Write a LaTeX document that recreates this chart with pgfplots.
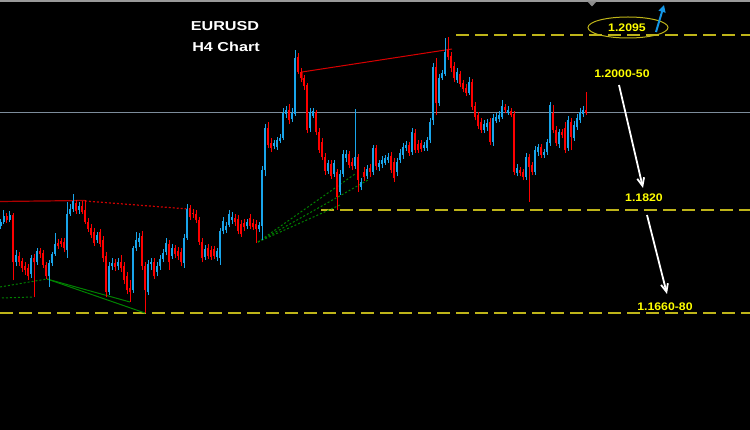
\documentclass[border=0pt]{standalone}
\usepackage{fontspec}
\setmainfont{Liberation Sans}
\usepackage{pgfplots}
\pgfplotsset{compat=1.18}
\usepackage{pgfplotstable}
\usetikzlibrary{arrows.meta}
\definecolor{cblue}{RGB}{25,165,235}
\definecolor{cred}{RGB}{255,0,0}
\definecolor{lvl}{RGB}{190,180,25}
\definecolor{lab}{RGB}{255,255,0}
\definecolor{gline}{RGB}{125,140,155}
\definecolor{tred}{RGB}{175,0,0}
\definecolor{tgreen}{RGB}{0,130,0}
\definecolor{abl}{RGB}{20,150,230}

\pgfplotstableread{
x o h l c
0 1.1795 1.1806 1.1790 1.1801
1 1.1801 1.1820 1.1798 1.1811
3 1.1804 1.1819 1.1801 1.1812
5 1.1738 1.1757 1.1732 1.1749
10 1.1720 1.1749 1.1713 1.1745
12 1.1738 1.1760 1.1734 1.1756
16 1.1716 1.1742 1.1699 1.1737
17 1.1737 1.1754 1.1732 1.1751
18 1.1751 1.1784 1.1748 1.1767
22 1.1757 1.1833 1.1745 1.1814
23 1.1814 1.1830 1.1811 1.1822
24 1.1822 1.1845 1.1817 1.1834
26 1.1820 1.1833 1.1814 1.1826
32 1.1773 1.1786 1.1768 1.1781
36 1.1691 1.1738 1.1687 1.1732
37 1.1732 1.1745 1.1726 1.1737
39 1.1732 1.1745 1.1726 1.1738
44 1.1694 1.1764 1.1690 1.1760
45 1.1760 1.1786 1.1756 1.1773
46 1.1770 1.1784 1.1762 1.1776
49 1.1691 1.1742 1.1687 1.1735
50 1.1735 1.1745 1.1726 1.1738
52 1.1723 1.1738 1.1716 1.1732
53 1.1732 1.1749 1.1726 1.1743
54 1.1743 1.1759 1.1738 1.1753
55 1.1754 1.1776 1.1749 1.1768
57 1.1748 1.1767 1.1743 1.1760
61 1.1737 1.1782 1.1729 1.1776
62 1.1776 1.1830 1.1773 1.1822
68 1.1746 1.1765 1.1742 1.1759
72 1.1746 1.1760 1.1740 1.1756
73 1.1745 1.1792 1.1734 1.1787
74 1.1787 1.1809 1.1782 1.1803
75 1.1789 1.1801 1.1784 1.1795
76 1.1797 1.1820 1.1793 1.1814
77 1.1804 1.1817 1.1798 1.1809
82 1.1795 1.1806 1.1790 1.1801
86 1.1790 1.1801 1.1786 1.1797
87 1.1795 1.1889 1.1773 1.1883
88 1.1883 1.1955 1.1873 1.1949
91 1.1921 1.1930 1.1916 1.1925
92 1.1919 1.1935 1.1914 1.1930
93 1.1929 1.1940 1.1925 1.1933
94 1.1933 1.1980 1.1930 1.1972
95 1.1971 1.1984 1.1965 1.1977
97 1.1963 1.1980 1.1958 1.1972
98 1.1971 1.2071 1.1968 1.2059
103 1.1949 1.1980 1.1943 1.1974
104 1.1968 1.1980 1.1965 1.1976
109 1.1881 1.1899 1.1877 1.1894
111 1.1877 1.1899 1.1872 1.1894
113 1.1848 1.1883 1.1844 1.1877
114 1.1877 1.1914 1.1872 1.1908
115 1.1902 1.1914 1.1896 1.1908
118 1.1889 1.1979 1.1885 1.1903
120 1.1856 1.1870 1.1851 1.1864
122 1.1873 1.1891 1.1869 1.1885
124 1.1880 1.1922 1.1875 1.1918
126 1.1888 1.1899 1.1881 1.1894
127 1.1892 1.1905 1.1886 1.1899
128 1.1894 1.1907 1.1891 1.1902
129 1.1899 1.1910 1.1894 1.1903
132 1.1880 1.1902 1.1873 1.1896
133 1.1899 1.1916 1.1894 1.1910
134 1.1907 1.1925 1.1900 1.1919
135 1.1918 1.1929 1.1913 1.1922
137 1.1911 1.1949 1.1907 1.1943
141 1.1918 1.1927 1.1913 1.1922
142 1.1918 1.1935 1.1913 1.1930
143 1.1930 1.1965 1.1925 1.1958
144 1.1961 1.2051 1.1954 1.2045
146 1.1988 1.2034 1.1984 1.2027
147 1.2027 1.2040 1.2024 1.2035
148 1.2034 1.2090 1.2031 1.2068
152 1.2024 1.2043 1.2020 1.2037
156 1.2004 1.2029 1.2001 1.2021
161 1.1946 1.1961 1.1941 1.1955
162 1.1950 1.1963 1.1944 1.1957
164 1.1927 1.1971 1.1921 1.1965
165 1.1960 1.1972 1.1957 1.1966
166 1.1963 1.1976 1.1958 1.1969
167 1.1966 1.1993 1.1963 1.1984
169 1.1972 1.1984 1.1969 1.1977
172 1.1878 1.1892 1.1873 1.1886
175 1.1872 1.1910 1.1867 1.1903
178 1.1880 1.1921 1.1875 1.1914
179 1.1911 1.1924 1.1905 1.1919
181 1.1907 1.1916 1.1902 1.1911
182 1.1911 1.1932 1.1907 1.1927
183 1.1925 1.1990 1.1921 1.1985
186 1.1924 1.1947 1.1918 1.1943
189 1.1918 1.1968 1.1913 1.1961
191 1.1933 1.1960 1.1929 1.1954
192 1.1950 1.1971 1.1946 1.1965
193 1.1961 1.1980 1.1957 1.1974
194 1.1971 1.1984 1.1966 1.1977
}\upc

\pgfplotstableread{
x o h l c
2 1.1811 1.1815 1.1800 1.1804
4 1.1812 1.1815 1.1710 1.1738
6 1.1748 1.1754 1.1732 1.1738
7 1.1740 1.1745 1.1723 1.1729
8 1.1732 1.1738 1.1718 1.1726
9 1.1729 1.1735 1.1710 1.1716
11 1.1745 1.1751 1.1683 1.1738
13 1.1756 1.1760 1.1745 1.1751
14 1.1753 1.1757 1.1729 1.1734
15 1.1734 1.1738 1.1712 1.1716
19 1.1768 1.1775 1.1759 1.1764
20 1.1771 1.1776 1.1762 1.1767
21 1.1770 1.1776 1.1754 1.1760
25 1.1831 1.1836 1.1814 1.1819
27 1.1826 1.1834 1.1814 1.1817
28 1.1820 1.1836 1.1798 1.1801
29 1.1801 1.1808 1.1786 1.1790
30 1.1792 1.1798 1.1776 1.1781
31 1.1786 1.1792 1.1764 1.1768
33 1.1786 1.1790 1.1762 1.1767
34 1.1773 1.1779 1.1738 1.1745
35 1.1748 1.1754 1.1683 1.1691
38 1.1737 1.1743 1.1724 1.1731
40 1.1738 1.1749 1.1723 1.1729
41 1.1732 1.1738 1.1704 1.1710
42 1.1716 1.1723 1.1688 1.1694
43 1.1698 1.1710 1.1676 1.1691
47 1.1779 1.1787 1.1726 1.1732
48 1.1732 1.1738 1.1658 1.1694
51 1.1738 1.1745 1.1712 1.1716
56 1.1767 1.1773 1.1726 1.1738
58 1.1760 1.1765 1.1745 1.1751
59 1.1756 1.1762 1.1742 1.1748
60 1.1754 1.1760 1.1732 1.1738
63 1.1823 1.1828 1.1804 1.1809
64 1.1815 1.1822 1.1808 1.1814
65 1.1814 1.1820 1.1800 1.1804
66 1.1804 1.1809 1.1765 1.1770
67 1.1770 1.1776 1.1738 1.1745
69 1.1760 1.1767 1.1743 1.1748
70 1.1757 1.1764 1.1742 1.1746
71 1.1759 1.1764 1.1743 1.1748
78 1.1808 1.1814 1.1795 1.1801
79 1.1806 1.1812 1.1782 1.1787
80 1.1798 1.1804 1.1778 1.1782
81 1.1800 1.1806 1.1787 1.1793
83 1.1808 1.1814 1.1790 1.1795
84 1.1800 1.1806 1.1789 1.1793
85 1.1798 1.1804 1.1768 1.1790
89 1.1949 1.1958 1.1918 1.1922
90 1.1925 1.1933 1.1911 1.1918
96 1.1977 1.1987 1.1955 1.1961
99 1.2060 1.2067 1.2034 1.2037
100 1.2037 1.2043 1.2021 1.2027
101 1.2027 1.2032 1.2009 1.2015
102 1.2016 1.2020 1.1941 1.1946
105 1.1974 1.1977 1.1938 1.1943
106 1.1943 1.1949 1.1910 1.1914
107 1.1927 1.1933 1.1899 1.1903
108 1.1903 1.1910 1.1875 1.1881
110 1.1892 1.1899 1.1869 1.1873
112 1.1880 1.1885 1.1820 1.1841
116 1.1908 1.1913 1.1886 1.1891
117 1.1896 1.1902 1.1883 1.1889
119 1.1903 1.1908 1.1848 1.1867
121 1.1880 1.1888 1.1866 1.1872
123 1.1886 1.1892 1.1872 1.1880
125 1.1918 1.1922 1.1883 1.1889
130 1.1905 1.1911 1.1878 1.1883
131 1.1896 1.1902 1.1864 1.1870
136 1.1922 1.1927 1.1905 1.1910
138 1.1941 1.1947 1.1910 1.1914
139 1.1924 1.1930 1.1910 1.1914
140 1.1925 1.1930 1.1911 1.1916
145 1.2045 1.2059 1.1969 1.1988
149 1.2071 1.2092 1.2056 1.2060
150 1.2062 1.2068 1.2037 1.2043
151 1.2046 1.2053 1.2021 1.2027
153 1.2034 1.2038 1.2013 1.2018
154 1.2020 1.2024 1.2005 1.2010
155 1.2012 1.2018 1.1999 1.2004
157 1.2021 1.2026 1.1977 1.1982
158 1.1984 1.1990 1.1961 1.1966
159 1.1969 1.1974 1.1947 1.1952
160 1.1958 1.1965 1.1941 1.1946
163 1.1958 1.1965 1.1922 1.1927
168 1.1982 1.1987 1.1972 1.1977
170 1.1976 1.1980 1.1966 1.1969
171 1.1971 1.1976 1.1875 1.1880
173 1.1883 1.1888 1.1873 1.1878
174 1.1880 1.1885 1.1867 1.1872
176 1.1903 1.1908 1.1833 1.1888
177 1.1891 1.1896 1.1875 1.1880
180 1.1919 1.1924 1.1902 1.1907
184 1.1972 1.1985 1.1941 1.1946
185 1.1946 1.1952 1.1921 1.1925
187 1.1943 1.1947 1.1933 1.1938
188 1.1949 1.1958 1.1910 1.1914
190 1.1958 1.1965 1.1914 1.1935
195 1.1977 1.2005 1.1969 1.1972
}\downc

\begin{document}
\begin{tikzpicture}
\fill[black] (0,0) rectangle (750bp,430bp);
% background guide lines (pixel frame: x right, y down)
\begin{scope}[x=1bp,y=-1bp,shift={(0,430bp)}]
  \draw[gray!80, line width=1.5bp] (0,1.2) -- (750,1.2);
  \fill[gray!90] (587.5,1.5) -- (596.5,1.5) -- (592,6.5) -- cycle;
  \draw[gline, line width=0.9bp] (0,112.5) -- (750,112.5);
  \draw[lvl, line width=1.3bp, dash pattern=on 13bp off 6bp] (456,35) -- (750,35);
  \draw[lvl, line width=1.3bp, dash pattern=on 13bp off 6bp] (321,210) -- (750,210);
  \draw[lvl, line width=1.3bp, dash pattern=on 13bp off 6bp] (0,313) -- (750,313);
  % trend lines
  \draw[tred, line width=1.2bp] (0,201.5) -- (85,200.5);
  \draw[red!80!black, line width=1.2bp, dash pattern=on 2bp off 2bp] (85,201) -- (188,209);
  \draw[red!85!black, line width=1bp] (302,80) -- (302,72) -- (452,49);
  \draw[tgreen, line width=1bp, dash pattern=on 2bp off 2bp] (0,287) -- (47,279);
  \draw[tgreen, line width=1bp, dash pattern=on 2bp off 2bp] (2,298) -- (33,297);
  \draw[tgreen, line width=1bp] (47,279) -- (130,302);
  \draw[tgreen, line width=1bp] (47,279) -- (145,313);
  \draw[tgreen, line width=1bp, dash pattern=on 2bp off 2bp] (258,242) -- (355,174);
  \draw[tgreen, line width=1bp, dash pattern=on 2bp off 2bp] (258,242) -- (368,180);
  \draw[tgreen, line width=1bp, dash pattern=on 2bp off 2bp] (258,242) -- (340,205);
\end{scope}
\begin{axis}[at={(0,0)}, anchor=south west, scale only axis,
  width=750bp, height=430bp,
  xmin=-0.3333, xmax=249.6667, ymin=1.14745, ymax=1.2150,
  hide axis, clip=true]
% wicks
\addplot[draw=none, forget plot, error bars/.cd, y dir=plus, y explicit, error mark=none,
  error bar style={draw=cblue, line width=1bp}]
  table[x=x, y=l, y error plus expr=\thisrow{h}-\thisrow{l}] {\upc};
\addplot[draw=none, forget plot, error bars/.cd, y dir=plus, y explicit, error mark=none,
  error bar style={draw=cred, line width=1bp}]
  table[x=x, y=l, y error plus expr=\thisrow{h}-\thisrow{l}] {\downc};
% bodies
\addplot[draw=none, forget plot, error bars/.cd, y dir=plus, y explicit, error mark=none,
  error bar style={draw=cblue, line width=2.6bp}]
  table[x=x, y=o, y error plus expr=\thisrow{c}-\thisrow{o}] {\upc};
\addplot[draw=none, forget plot, error bars/.cd, y dir=plus, y explicit, error mark=none,
  error bar style={draw=cred, line width=2.6bp}]
  table[x=x, y=c, y error plus expr=\thisrow{o}-\thisrow{c}] {\downc};
\end{axis}
\begin{scope}[x=1bp,y=-1bp,shift={(0,430bp)}]
  \node[white, anchor=base, font=\bfseries\fontsize{13}{13}\selectfont] at (225,31) {\scalebox{1.25}[1]{EURUSD}};
  \node[white, anchor=base, font=\bfseries\fontsize{13}{13}\selectfont] at (226,51.5) {\scalebox{1.25}[1]{H4 Chart}};
  \draw[lvl, line width=1bp] (628,27.5) ellipse [x radius=40bp, y radius=10.5bp];
  \node[lab, anchor=base, font=\bfseries\fontsize{11}{11}\selectfont] at (627,32) {\scalebox{1.12}[1]{1.2095}};
  \node[lab, anchor=base, font=\bfseries\fontsize{11}{11}\selectfont] at (622,78) {\scalebox{1.12}[1]{1.2000-50}};
  \node[lab, anchor=base, font=\bfseries\fontsize{11}{11}\selectfont] at (644,202) {\scalebox{1.12}[1]{1.1820}};
  \node[lab, anchor=base, font=\bfseries\fontsize{11}{11}\selectfont] at (665,311) {\scalebox{1.12}[1]{1.1660-80}};
  \draw[abl, line width=2bp, -{Triangle[length=7bp,width=7bp]}] (656,32) -- (664,5);
  \draw[white, line width=1.8bp, -{Straight Barb[length=8bp,width=7bp]}] (619,85) -- (643,188);
  \draw[white, line width=1.8bp, -{Straight Barb[length=8bp,width=7bp]}] (647,215) -- (667,294);
\end{scope}
\pgfresetboundingbox
\path (0,0) rectangle (750bp,430bp);
\end{tikzpicture}
\end{document}
